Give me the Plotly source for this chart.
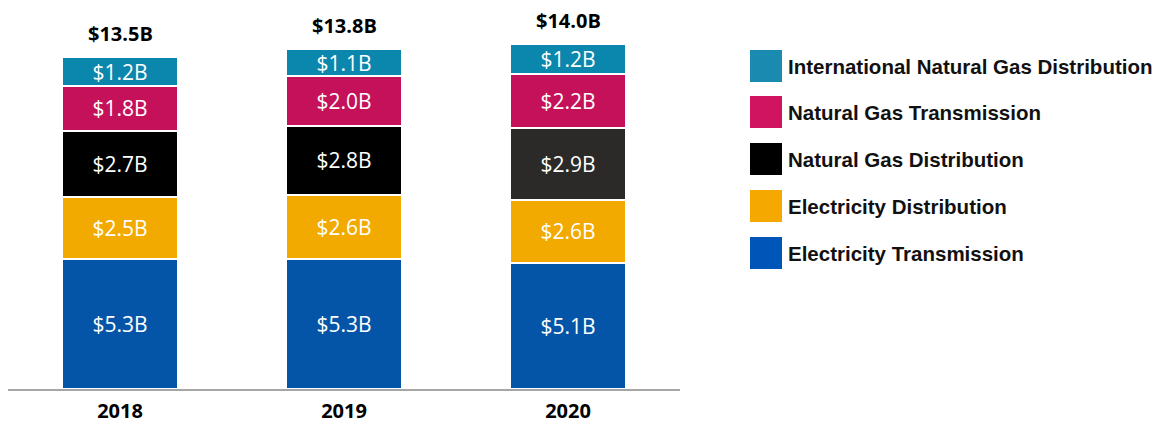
import plotly.graph_objects as go

years = ["2018", "2019", "2020"]
series_names = [
    "Electricity Transmission",
    "Electricity Distribution",
    "Natural Gas Distribution",
    "Natural Gas Transmission",
    "International Natural Gas Distribution",
]
elec_trans = [5.3, 5.3, 5.1]
elec_dist = [2.5, 2.6, 2.6]
gas_dist = [2.7, 2.8, 2.9]
gas_trans = [1.8, 2.0, 2.2]
intl_gas = [1.2, 1.1, 1.2]
totals = [13.5, 13.8, 14.0]
series_values = [elec_trans, elec_dist, gas_dist, gas_trans, intl_gas]
series_colors = [
    ["#0455a7"] * 3,
    ["#f2a900"] * 3,
    ["#000000", "#000000", "#2b2a29"],
    ["#c5115a"] * 3,
    ["#0b86ac"] * 3,
]
legend_colors = ["#0056b8", "#f5a800", "#000000", "#d0145f", "#1a8ab0"]

# figure sits inside the page body (8px default margin)
W, H = 1150, 415
ML, MR, MT, MB = 0, 478, 2, 34
plot_w = W - ML - MR
plot_h = H - MT - MB

fig = go.Figure()
for name, vals, cols in zip(series_names, series_values, series_colors):
    fig.add_trace(go.Bar(
        x=years, y=vals, name=name,
        marker=dict(color=cols, line=dict(color="white", width=2)),
        text=[f"${v:.1f}B" for v in vals],
        textposition="inside", insidetextanchor="middle",
        textfont=dict(color="white", size=21, family="Open Sans"),
        showlegend=False,
    ))

# totals above bars (category axis positions given by index)
for i, t in enumerate(totals):
    fig.add_annotation(x=i, y=t, text=f"<b>${t:.1f}B</b>", showarrow=False,
                       yanchor="bottom", yshift=8,
                       font=dict(size=20, family="Open Sans", color="black"))

# custom legend (top to bottom), pixel positions in figure space
legend_px_top = [42, 88, 135, 182, 229]
for i, idx in enumerate([4, 3, 2, 1, 0]):
    top = legend_px_top[i]
    x0 = (742 - ML) / plot_w
    x1 = (774 - ML) / plot_w
    y1 = (H - MB - top) / plot_h
    y0 = (H - MB - (top + 32)) / plot_h
    fig.add_shape(type="rect", xref="paper", yref="paper", x0=x0, x1=x1, y0=y0, y1=y1,
                  fillcolor=legend_colors[idx], line=dict(width=0))
    fig.add_annotation(xref="paper", yref="paper", x=(778 - ML) / plot_w, y=(y0 + y1) / 2,
                       xanchor="left", yanchor="middle", showarrow=False,
                       text=f"<b>{series_names[idx]}</b>",
                       font=dict(size=20.5, family="Liberation Sans", color="#111111"))

fig.update_layout(
    width=W, height=H, barmode="stack", bargap=0.48,
    margin=dict(l=ML, r=MR, t=MT, b=MB, autoexpand=False),
    uniformtext=dict(minsize=21, mode="show"),
    plot_bgcolor="white", paper_bgcolor="white",
    xaxis=dict(type="category", range=[-0.5, 2.5], showline=True,
               linecolor="#a6a6a6", linewidth=2,
               showgrid=False, ticks="outside", ticklen=3, tickcolor="white",
               tickfont=dict(size=20, family="Open Sans",
                             color="black", weight="bold")),
    yaxis=dict(range=[0, 15.4], showgrid=False, showticklabels=False,
               zeroline=False, ticks=""),
)

fig.write_html("out.html")
